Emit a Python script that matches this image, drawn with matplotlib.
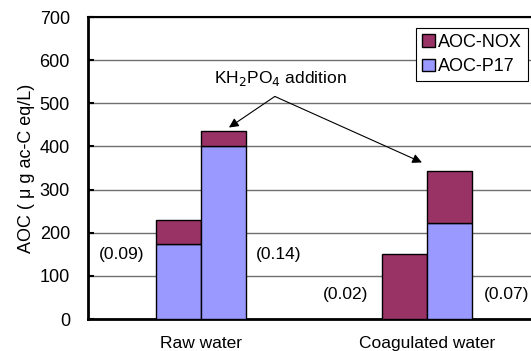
import numpy as np
import matplotlib
matplotlib.use('Agg')
import matplotlib.pyplot as plt

plt.rcParams['font.family'] = ['Liberation Sans', 'DejaVu Sans']

# data
categories = ['Raw water', 'Coagulated water']
p17_plain = [175, 0]       # AOC-P17, without KH2PO4
nox_plain = [55, 150]      # AOC-NOX on top
p17_kh = [400, 222]        # AOC-P17, with KH2PO4
nox_kh = [35, 122]
ratio_left = ['(0.09)', '(0.02)']
ratio_right = ['(0.14)', '(0.07)']

c_nox = '#993366'
c_p17 = '#9999FF'

fig = plt.figure(figsize=(5.31, 3.51), dpi=100)
ax = fig.add_axes([0.1657, 0.091, 0.851, 0.8604])

x = np.arange(len(categories))
w = 0.2
ax.bar(x - w/2, p17_plain, w, color=c_p17, edgecolor='black', lw=1, zorder=3)
ax.bar(x - w/2, nox_plain, w, bottom=p17_plain, color=c_nox, edgecolor='black', lw=1, zorder=3)
ax.bar(x + w/2, p17_kh, w, color=c_p17, edgecolor='black', lw=1, zorder=3, label='AOC-P17')
ax.bar(x + w/2, nox_kh, w, bottom=p17_kh, color=c_nox, edgecolor='black', lw=1, zorder=3, label='AOC-NOX')

ax.set_xlim(-0.5, 1.5)
ax.set_ylim(0, 700)
ax.set_yticks(range(0, 701, 100))
ax.set_xticks(x)
ax.set_xticklabels(categories, fontsize=12.5)
ax.tick_params(axis='x', length=0, pad=12)
ax.tick_params(axis='y', labelsize=13, direction='in', length=4, width=1.5, pad=13)
ax.yaxis.grid(True, color='#707070', lw=1, zorder=0)
ax.set_axisbelow(True)
for s in ['left', 'bottom']:
    ax.spines[s].set_linewidth(2)
ax.spines['top'].set_linewidth(1.5)
ax.spines['right'].set_visible(False)
ax.set_ylabel('AOC ( μ g ac-C eq/L)', fontsize=13, labelpad=3)

# ratio labels
fs = 12.5
ax.text(-0.35, 149, ratio_left[0], ha='center', va='center', fontsize=fs)
ax.text(0.343, 149, ratio_right[0], ha='center', va='center', fontsize=fs)
ax.text(0.64, 56, ratio_left[1], ha='center', va='center', fontsize=fs)
ax.text(1.354, 56, ratio_right[1], ha='center', va='center', fontsize=fs)

# KH2PO4 annotation
ax.text(0.35, 558, 'KH$_2$PO$_4$ addition', ha='center', va='center', fontsize=fs)
apex = (0.327, 516)
ax.annotate('', xy=(0.124, 444), xytext=apex,
            arrowprops=dict(arrowstyle='-|>', color='black', lw=0.8, mutation_scale=14,
                            shrinkA=0, shrinkB=0))
ax.annotate('', xy=(0.978, 363), xytext=apex,
            arrowprops=dict(arrowstyle='-|>', color='black', lw=0.8, mutation_scale=14,
                            shrinkA=0, shrinkB=0))

h, l = ax.get_legend_handles_labels()
leg = ax.legend(h[::-1], l[::-1], loc='upper left', bbox_to_anchor=(0.726, 0.965),
                fontsize=13, frameon=True, fancybox=False, edgecolor='black',
                framealpha=1, handlelength=0.7, handleheight=0.7, handletextpad=0.15,
                borderpad=0.35, labelspacing=0.4, borderaxespad=0)
leg.get_frame().set_linewidth(0.8)

fig.savefig('out.png', dpi=100)
